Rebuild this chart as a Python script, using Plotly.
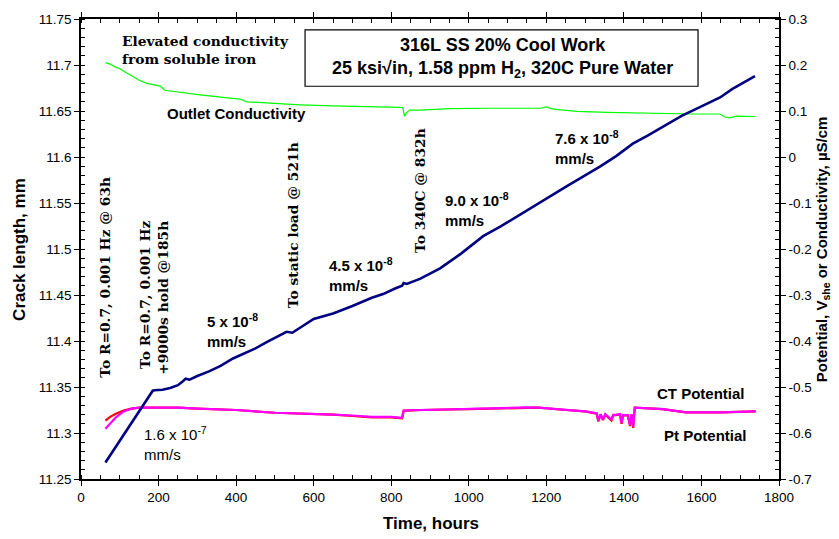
import plotly.graph_objects as go

# ---- crack length, mm (left axis) ----
crack_time = [63, 80, 100, 120, 140, 160, 185, 190, 210, 230, 250, 262, 270, 280, 300,
              330, 360, 392, 420, 450, 480, 522, 530, 545, 560, 600, 650, 700, 750, 779,
              810, 828, 832, 840, 874, 926, 980, 1037, 1080, 1130, 1166, 1210, 1252, 1300,
              1338, 1380, 1423, 1460, 1500, 1550, 1600, 1648, 1680, 1710, 1738]
crack_mm = [11.268, 11.279, 11.292, 11.304, 11.317, 11.330, 11.346, 11.3465, 11.347, 11.349,
            11.352, 11.356, 11.359, 11.358, 11.362, 11.367, 11.373, 11.381, 11.386, 11.392,
            11.399, 11.408, 11.410, 11.409, 11.413, 11.424, 11.430, 11.438, 11.447, 11.451,
            11.457, 11.460, 11.463, 11.462, 11.4675, 11.479, 11.495, 11.514, 11.524, 11.537,
            11.5465, 11.557, 11.568, 11.580, 11.5895, 11.601, 11.6145, 11.623, 11.633, 11.645,
            11.655, 11.6647, 11.674, 11.681, 11.688]

# ---- outlet conductivity, uS/cm (right axis) ----
cond_time = [63, 75, 88, 100, 115, 135, 150, 170, 190, 204, 216, 250, 307, 360, 410, 428,
             479, 565, 650, 740, 823, 830, 834, 840, 848, 874, 950, 1050, 1150, 1185, 1200,
             1212, 1230, 1280, 1356, 1450, 1576, 1648, 1660, 1673, 1690, 1738]
cond = [0.205, 0.202, 0.196, 0.192, 0.184, 0.174, 0.167, 0.160, 0.157, 0.154, 0.145, 0.141,
        0.135, 0.130, 0.126, 0.120, 0.117, 0.1135, 0.111, 0.110, 0.108, 0.107, 0.089, 0.097,
        0.102, 0.102, 0.105, 0.106, 0.105, 0.106, 0.109, 0.105, 0.103, 0.099, 0.097, 0.095,
        0.0935, 0.0935, 0.087, 0.085, 0.089, 0.088]

# ---- CT and Pt potentials, V_she (right axis) ----
pot_time = [63, 75, 90, 110, 130, 150, 180, 250, 300, 400, 500, 550, 600, 650, 700, 750,
            800, 828, 832, 874, 1000, 1150, 1180, 1250, 1300, 1330, 1334, 1340, 1346, 1352,
            1368, 1372, 1390, 1394, 1398, 1410, 1416, 1420, 1424, 1428, 1500, 1560, 1650, 1740]
ct_pot = [-0.573, -0.565, -0.558, -0.551, -0.547, -0.545, -0.545, -0.545, -0.547, -0.550,
          -0.556, -0.557, -0.559, -0.560, -0.563, -0.566, -0.566, -0.568, -0.552, -0.550,
          -0.548, -0.5445, -0.545, -0.550, -0.553, -0.558, -0.575, -0.560, -0.572, -0.560,
          -0.573, -0.562, -0.560, -0.580, -0.562, -0.562, -0.585, -0.560, -0.589, -0.545,
          -0.548, -0.555, -0.555, -0.553]
pt_pot = [-0.591, -0.580, -0.566, -0.553, -0.547, -0.545, -0.545, -0.545, -0.547, -0.550,
          -0.556, -0.557, -0.559, -0.560, -0.562, -0.565, -0.565, -0.567, -0.551, -0.550,
          -0.548, -0.5445, -0.545, -0.550, -0.553, -0.557, -0.573, -0.559, -0.570, -0.559,
          -0.571, -0.561, -0.559, -0.578, -0.561, -0.561, -0.582, -0.559, -0.586, -0.545,
          -0.548, -0.555, -0.555, -0.553]

# ---- axis ticks ----
time_ticks = [0, 200, 400, 600, 800, 1000, 1200, 1400, 1600, 1800]
mm_ticks = [11.25, 11.3, 11.35, 11.4, 11.45, 11.5, 11.55, 11.6, 11.65, 11.7, 11.75]
mm_labels = ["11.25", "11.3", "11.35", "11.4", "11.45", "11.5", "11.55", "11.6", "11.65", "11.7", "11.75"]
pot_ticks = [-0.7, -0.6, -0.5, -0.4, -0.3, -0.2, -0.1, 0, 0.1, 0.2, 0.3]
pot_labels = ["-0.7", "-0.6", "-0.5", "-0.4", "-0.3", "-0.2", "-0.1", "0", "0.1", "0.2", "0.3"]

SANS = "Liberation Sans, Arial, sans-serif"
SERIF = "DejaVu Serif"

fig = go.Figure()
fig.add_trace(go.Scatter(x=cond_time, y=cond, mode="lines", yaxis="y",
                         line=dict(color="#00ff00", width=1.2), name="Outlet Conductivity"))
fig.add_trace(go.Scatter(x=pot_time, y=ct_pot, mode="lines", yaxis="y",
                         line=dict(color="#ff0000", width=2.2), name="CT Potential"))
fig.add_trace(go.Scatter(x=pot_time, y=pt_pot, mode="lines", yaxis="y",
                         line=dict(color="#ff00ff", width=2.2), name="Pt Potential"))
fig.add_trace(go.Scatter(x=crack_time, y=crack_mm, mode="lines", yaxis="y2",
                         line=dict(color="#000080", width=2.6), name="Crack length"))

tickfont = dict(family=SANS, size=13.5, color="black")

fig.update_layout(
    width=839, height=539,
    margin=dict(l=81, r=60, t=14, b=60),
    plot_bgcolor="white", paper_bgcolor="white",
    showlegend=False,
    xaxis=dict(range=[0, 1800], tickvals=time_ticks, showgrid=False, zeroline=False,
               showline=True, linecolor="black", linewidth=1.5, mirror="ticks",
               ticks="outside", ticklen=5, tickcolor="black", tickwidth=1.2,
               minor=dict(dtick=50, ticks="inside", ticklen=4, tickcolor="black", showgrid=False),
               tickfont=tickfont),
    yaxis=dict(range=[-0.7, 0.3], side="right", tickvals=pot_ticks, ticktext=pot_labels,
               showgrid=False, zeroline=False, showline=True, linecolor="black", linewidth=1.5,
               ticks="outside", ticklen=5, tickcolor="black", tickwidth=1.2,
               minor=dict(dtick=0.02, ticks="inside", ticklen=4, tickcolor="black", showgrid=False),
               tickfont=tickfont),
    yaxis2=dict(range=[11.25, 11.75], side="left", overlaying="y", tickvals=mm_ticks,
                ticktext=mm_labels, showgrid=False, zeroline=False, showline=True,
                linecolor="black", linewidth=1.5, ticks="outside", ticklen=5,
                tickcolor="black", tickwidth=1.2,
                minor=dict(dtick=0.01, ticks="inside", ticklen=4, tickcolor="black", showgrid=False),
                tickfont=tickfont),
)

# title box
fig.add_shape(type="rect", xref="paper", yref="paper", x0=0.321, x1=0.884, y0=0.8538, y1=0.9763,
              line=dict(color="black", width=1.2), fillcolor="white", layer="below")

def note(text, x, y, font, xanchor="center", yanchor="middle", angle=0, align="left"):
    fig.add_annotation(text=text, x=x, y=y, xref="x", yref="y2", showarrow=False,
                       xanchor=xanchor, yanchor=yanchor, textangle=angle, align=align,
                       font=font)

bold_sans = dict(family=SANS, size=15, color="black", weight="bold")
bold_serif = dict(family=SERIF, size=13.8, color="black", weight="bold")

note("316L SS 20% Cool Work<br>25 ksi√in, 1.58 ppm H<sub>2</sub>, 320C Pure Water",
     1086, 11.7075, dict(family=SANS, size=18, color="black", weight="bold"), align="center")
note("Elevated conductivity<br>from soluble iron", 100, 11.716, bold_serif, xanchor="left")
note("Outlet Conductivity", 402, 11.647, bold_sans)
note("To R=0.7, 0.001 Hz @ 63h", 62, 11.4688, bold_serif, angle=-90)
note("To R=0.7, 0.001 Hz<br>+9000s hold @185h", 188, 11.4468, bold_serif, angle=-90,
     align="right")
note("To static load @ 521h", 547, 11.526, bold_serif, angle=-90)
note("To 340C @ 832h", 874, 11.564, bold_serif, angle=-90)
note("5 x 10<sup>-8</sup><br>mm/s", 320, 11.411, bold_sans, xanchor="left")
note("4.5 x 10<sup>-8</sup><br>mm/s", 634, 11.472, bold_sans, xanchor="left")
note("9.0 x 10<sup>-8</sup><br>mm/s", 933, 11.543, bold_sans, xanchor="left")
note("7.6 x 10<sup>-8</sup><br>mm/s", 1217, 11.610, bold_sans, xanchor="left")
note("1.6 x 10<sup>-7</sup><br>mm/s", 157, 11.289, dict(family=SANS, size=15, color="black"),
     xanchor="left")
note("CT Potential", 1717, 11.3425, bold_sans, xanchor="right")
note("Pt Potential", 1722, 11.297, bold_sans, xanchor="right")

# axis titles
title_font = dict(family=SANS, size=17, color="black", weight="bold")
fig.add_annotation(text="Time, hours", xref="paper", yref="paper", x=0.501, y=-0.097,
                   showarrow=False, xanchor="center", yanchor="middle", font=title_font)
fig.add_annotation(text="Crack length, mm", xref="paper", yref="paper", x=-0.089, y=0.5,
                   showarrow=False, xanchor="center", yanchor="middle", textangle=-90,
                   font=title_font)
fig.add_annotation(text="Potential, V<sub>she</sub> or Conductivity, µS/cm", xref="paper",
                   yref="paper", x=1.062, y=0.5, showarrow=False, xanchor="center",
                   yanchor="middle", textangle=-90,
                   font=dict(family=SANS, size=15, color="black", weight="bold"))

fig.write_html("out.html")
